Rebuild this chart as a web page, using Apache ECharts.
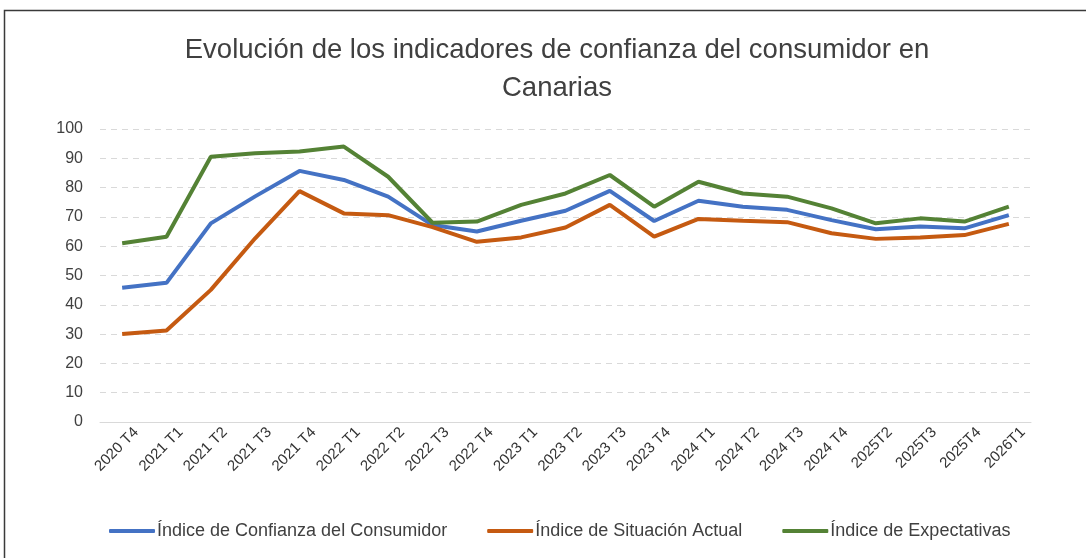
<!DOCTYPE html>
<html>
<head>
<meta charset="utf-8">
<script src="https://cdn.jsdelivr.net/npm/echarts@6/dist/echarts.min.js"></script>
<style>
  html, body { margin: 0; padding: 0; background: #fff; }
  #chart { width: 1086px; height: 558px; }
</style>
</head>
<body>
<div id="chart"></div>
<script>
// quarters on the x axis
var quarters = [
  "2020 T4", "2021 T1", "2021 T2", "2021 T3", "2021 T4",
  "2022 T1", "2022 T2", "2022 T3", "2022 T4",
  "2023 T1", "2023 T2", "2023 T3", "2023 T4",
  "2024 T1", "2024 T2", "2024 T3", "2024 T4",
  "2025T2", "2025T3", "2025T4", "2026T1"
];

// values
var confianza = [45.8, 47.5, 67.8, 77.0, 85.7, 82.6, 76.9, 67.2, 65.0, 68.7, 72.1, 78.9, 68.6, 75.5, 73.5, 72.4, 68.9, 65.8, 66.7, 66.1, 70.6];
var situacion = [30.0, 31.2, 45.1, 62.7, 78.8, 71.2, 70.6, 66.5, 61.5, 63.0, 66.4, 74.1, 63.3, 69.3, 68.7, 68.2, 64.4, 62.5, 63.0, 63.8, 67.6];
var expectativas = [61.0, 63.2, 90.5, 91.7, 92.3, 94.0, 83.7, 68.0, 68.4, 74.1, 78.0, 84.3, 73.5, 82.0, 78.0, 76.9, 72.9, 67.8, 69.5, 68.4, 73.5];

var seriesNames = [
  "Índice de Confianza del Consumidor",
  "Índice de Situación Actual",
  "Índice de Expectativas"
];
var seriesColors = ["#4472C4", "#C55A11", "#548235"];

var font = "'Liberation Sans', Arial, sans-serif";

var chart = echarts.init(document.getElementById("chart"));

function lineSeries(name, data, color) {
  return {
    name: name,
    type: "line",
    data: data,
    symbol: "none",
    lineStyle: { width: 4, color: color },
    itemStyle: { color: color }
  };
}

var option = {
  animation: false,
  backgroundColor: "#fff",
  graphic: [
    {
      type: "rect",
      shape: { x: 4.5, y: 10.5, width: 1200, height: 700 },
      style: { fill: "none", stroke: "#3a3a3a", lineWidth: 1.5 },
      silent: true
    }
  ],
  title: {
    text: "Evolución de los indicadores de confianza del consumidor en\nCanarias",
    left: 552,
    textAlign: "center",
    top: 26,
    textStyle: {
      fontFamily: font,
      fontSize: 27.5,
      fontWeight: "normal",
      color: "#404040",
      lineHeight: 38
    }
  },
  legend: {
    data: seriesNames,
    left: 104,
    top: 517,
    itemWidth: 46,
    itemHeight: 4,
    itemGap: 40,
    icon: "roundRect",
    textStyle: { fontFamily: font, fontSize: 18, color: "#404040", padding: [0, 0, 0, -3] }
  },
  grid: { left: 100, right: 55, top: 129, bottom: 136 },
  xAxis: {
    type: "category",
    data: quarters,
    boundaryGap: true,
    axisLine: { lineStyle: { color: "#d9d9d9", width: 1 } },
    axisTick: { show: false },
    axisLabel: {
      interval: 0,
      rotate: 45,
      margin: 22,
      padding: [0, -20, 0, 0],
      fontFamily: font,
      fontSize: 15,
      color: "#333"
    }
  },
  yAxis: {
    type: "value",
    min: 0,
    max: 100,
    interval: 10,
    axisLine: { show: false },
    axisTick: { show: false },
    axisLabel: { fontFamily: font, fontSize: 16, color: "#404040", margin: 17 },
    splitLine: { lineStyle: { color: "#d9d9d9", type: [6, 5], width: 1 } }
  },
  series: [
    lineSeries(seriesNames[0], confianza, seriesColors[0]),
    lineSeries(seriesNames[1], situacion, seriesColors[1]),
    lineSeries(seriesNames[2], expectativas, seriesColors[2])
  ]
};

chart.setOption(option);
</script>
</body>
</html>
